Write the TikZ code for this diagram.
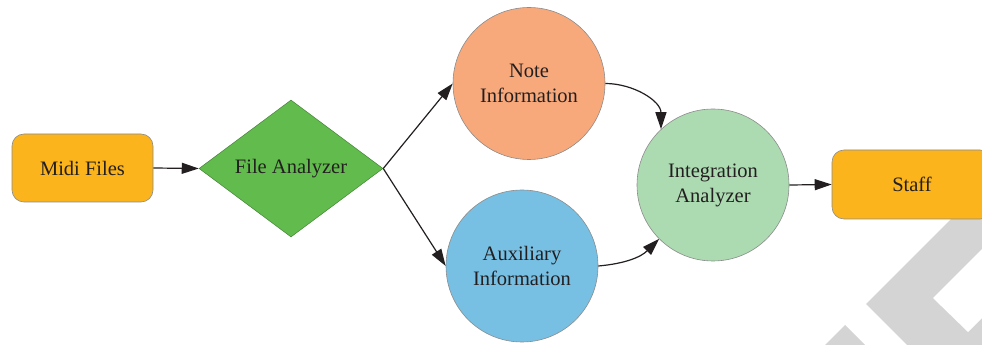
\documentclass[tikz,border=0pt]{standalone}
\usepackage{fontspec}
\setmainfont{Liberation Serif}
\usetikzlibrary{shapes.geometric,arrows.meta}
\definecolor{orng}{RGB}{251,180,27}
\definecolor{grn}{RGB}{98,187,77}
\definecolor{salmon}{RGB}{248,169,123}
\definecolor{skyb}{RGB}{119,192,227}
\definecolor{mint}{RGB}{172,218,177}
\definecolor{wmark}{RGB}{212,212,212}
\definecolor{txt}{RGB}{35,31,32}
\begin{document}
\begin{tikzpicture}[x=1pt,y=1pt,
  every node/.style={text=txt,font=\fontsize{20.5}{25}\selectfont,align=center},
  boxnode/.style={rectangle,rounded corners=12pt,fill=orng,draw=black!45,line width=0.6pt,inner sep=0pt},
  diam/.style={diamond,aspect=1.343,fill=grn,draw=grn!70!black,line width=0.5pt,minimum width=184pt,minimum height=137pt,inner sep=0pt},
  circ/.style={circle,draw=black!45,line width=0.6pt,minimum size=152pt,inner sep=0pt},
  conn/.style={line width=1.2pt,draw=txt,-{Triangle[length=17pt,width=11pt]}}
]
\useasboundingbox (0,0) rectangle (982,345);
% watermark
\fill[wmark] (1030,205) -- (866,41) -- (907,0) -- (1030,0) -- cycle;
\fill[white] (933,47) -- (1030,144) -- (1030,75) -- (968,13) -- cycle;
\fill[wmark] (845,20) -- (825,0) -- (865,0) -- cycle;
% nodes
\node[boxnode,minimum width=141pt,minimum height=68pt] (midi) at (82.5,177) {Midi Files};
\node[diam] (fa) at (291,176.5) {File Analyzer};
\node[circ,fill=salmon] (note) at (529,261.5) {Note\\Information};
\node[circ,fill=skyb] (aux) at (522,79) {Auxiliary\\Information};
\node[circ,fill=mint] (int) at (713,160) {Integration\\Analyzer};
\node[boxnode,minimum width=160pt,minimum height=69pt] (staff) at (912,160.5) {Staff};
% connectors
\draw[conn] (midi.east) -- (fa.west);
\draw[conn] (fa.east) -- (note.west);
\draw[conn] (fa.east) -- (aux.west);
\draw[conn] (note.east) to[out=0,in=90] (int.133);
\draw[conn] (aux.east) to[out=5,in=225] (int.225);
\draw[conn] (int.east) -- (staff.west);
\end{tikzpicture}
\end{document}
